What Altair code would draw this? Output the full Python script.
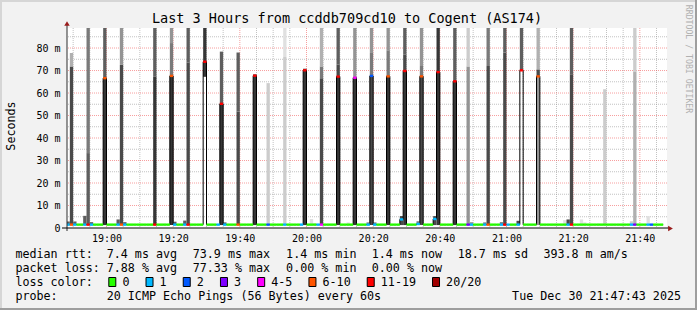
import altair as alt
import pandas as pd

# ------------------------------------------------------------------ data
START_H, START_M = 18, 48          # minute offset 0 == 18:48
N_MINUTES = 179                    # 18:48 .. 21:46 (one step per minute)
BASE_MEDIAN = 1.5                  # ms, level of the flat median line
SMOKE_FLOOR = 1.3                  # ms, fastest ping

LOSS_LABELS = ["0", "1", "2", "3", "4-5", "6-10", "11-19", "20/20"]
LOSS_COLORS = ["#26ff00", "#00b8ff", "#0059ff", "#7e00ff",
               "#ff00ff", "#ff5500", "#ff0000", "#a10000"]

# minute offset -> loss class (all other minutes: "0")
loss_by_minute = {
    0: "1", 1: "6-10", 2: "1", 5: "1", 6: "11-19", 7: "1", 11: "6-10",
    15: "1", 16: "6-10", 17: "1", 26: "11-19", 31: "6-10", 32: "1",
    35: "1", 36: "11-19", 41: "11-19", 45: "1", 46: "11-19", 47: "1",
    51: "6-10", 56: "11-19", 60: "2", 65: "1", 70: "1", 71: "11-19",
    75: "1", 76: "4-5", 81: "11-19", 86: "4-5", 90: "1", 91: "2", 92: "1",
    96: "6-10", 100: "1", 101: "11-19", 105: "1", 106: "6-10", 110: "1",
    111: "11-19", 116: "11-19", 120: "3", 121: "1", 125: "1", 126: "6-10",
    130: "1", 131: "11-19", 132: "1", 135: "1", 136: "11-19", 141: "6-10",
    150: "1", 151: "11-19", 169: "1", 170: "3", 174: "1", 175: "2",
}

# minute offset -> median rtt in ms where it is off the flat line
median_by_minute = {
    11: 66.6, 31: 67.6, 41: 73.9, 46: 55.2, 56: 67.7, 71: 70.1, 81: 67.3,
    86: 66.8, 91: 67.6, 96: 67.4, 100: 3.8, 101: 69.8, 105: 1.8, 106: 67.4,
    110: 4.0, 111: 69.3, 116: 65.2, 136: 70.1, 141: 67.4,
}

# tall smoke: (minute, low ms, high ms, ping density 1 = sparse .. 8 = dense)
tall_smoke = [
    (1, 1.3, 71.8, 7), (1, 71.8, 77.8, 3),
    (6, 1.3, 33.3, 6), (6, 33.3, 90, 5),
    (11, 1.3, 66.6, 8), (11, 66.6, 90, 6),
    (16, 1.3, 72.5, 7), (16, 72.5, 90, 4),
    (26, 1.3, 67.2, 8), (26, 67.2, 90, 6),
    (31, 1.3, 67.6, 8), (31, 67.6, 82.2, 5), (31, 82.2, 90, 4),
    (36, 1.3, 73.6, 7), (36, 73.6, 90, 6),
    (41, 67.2, 90, 8),
    (46, 1.3, 55.2, 8), (46, 55.2, 78.4, 6),
    (51, 1.3, 51.8, 7), (51, 51.8, 78.0, 6),
    (56, 1.3, 68.3, 8),
    (60, 1.3, 64.4, 2),
    (65, 1.3, 76.0, 2), (65, 76.0, 90, 1),
    (71, 1.3, 70.8, 8),
    (76, 1.3, 66.6, 7), (76, 66.6, 71.8, 5), (76, 71.8, 90, 3),
    (81, 1.3, 67.3, 8), (81, 67.3, 72.6, 7), (81, 72.6, 90, 6),
    (86, 1.3, 66.8, 8), (86, 66.8, 90, 4),
    (91, 1.3, 67.6, 7), (91, 67.6, 77.8, 5), (91, 77.8, 90, 4),
    (96, 1.3, 67.4, 8), (96, 67.4, 79.0, 5), (96, 79.0, 90, 4),
    (101, 1.3, 69.8, 8), (101, 69.8, 77.0, 7), (101, 77.0, 90, 6),
    (106, 1.3, 67.4, 7), (106, 67.4, 72.0, 5), (106, 72.0, 90, 4),
    (111, 1.3, 90, 8),
    (116, 1.3, 65.2, 8), (116, 65.2, 90, 6),
    (120, 1.3, 71.8, 4), (120, 71.8, 90, 2),
    (126, 1.3, 72.0, 7), (126, 72.0, 90, 5),
    (131, 1.3, 78.0, 7), (131, 78.0, 90, 6),
    (136, 70.1, 90, 6),
    (141, 1.3, 67.4, 4), (141, 67.4, 70.5, 7), (141, 70.5, 90, 3),
    (151, 1.3, 68.3, 7), (151, 68.3, 90, 6),
    (161, 1.3, 61.7, 2),
    (170, 1.3, 69.6, 3), (170, 69.6, 90, 2),
]

# low smoke near the floor: (minute, high ms, density)
small_smoke = [
    (0, 2.9, 6), (2, 2.9, 6), (5, 5.4, 6), (7, 2.6, 6), (15, 3.8, 6),
    (17, 2.6, 6), (29, 1.9, 1), (32, 2.8, 6), (35, 3.3, 6), (47, 2.5, 6),
    (73, 4.0, 1), (74, 2.2, 1), (84, 2.5, 1), (90, 2.5, 5), (92, 2.5, 5),
    (100, 5.3, 7), (105, 3.0, 5), (110, 5.3, 7), (121, 2.6, 4),
    (125, 2.5, 5), (130, 2.6, 5), (135, 3.2, 7), (149, 3.5, 1),
    (150, 3.8, 7), (154, 3.8, 1), (155, 2.5, 1), (159, 1.9, 1),
    (169, 3.0, 2), (174, 5.3, 1),
]

DENSITY_LEVELS = [1, 2, 3, 4, 5, 6, 7, 8]
DENSITY_GREYS = ["#e0e0e0", "#cccccc", "#b0b0b0", "#949494",
                 "#7a7a7a", "#5e5e5e", "#4a4a4a", "#363636"]

X_LABEL_TIMES = ["19:00", "19:20", "19:40", "20:00", "20:20",
                 "20:40", "21:00", "21:20", "21:40"]
Y_LABEL_VALUES = [0, 10, 20, 30, 40, 50, 60, 70, 80]

TITLE = "Last 3 Hours from ccddb709cd10 to Cogent (AS174)"
Y_TITLE = "Seconds"
LEGEND_ROW1 = [(16, "median rtt:"), (107.3, "7.4 ms avg"), (193.3, "73.9 ms max"),
               (286.7, "1.4 ms min"), (372.3, "1.4 ms now"), (458.3, "18.7 ms sd"),
               (544.0, "393.8 m am/s")]
LEGEND_ROW2 = [(16, "packet loss:"), (107.3, "7.88 % avg"), (193.3, "77.33 % max"),
               (286.7, "0.00 % min"), (372.3, "0.00 % now")]
LEGEND_ROW3_LABEL = "loss color:"
LEGEND_ROW4 = [(16, "probe:"), (107.3, "20 ICMP Echo Pings (56 Bytes) every 60s")]
STAMP = "Tue Dec 30 21:47:43 2025"
WATERMARK = "RRDTOOL / TOBI OETIKER"

# ------------------------------------------------------------------ tables
def to_offset(hhmm):
    h, m = map(int, hhmm.split(":"))
    return h * 60 + m - (START_H * 60 + START_M)

med_rows = []
for k in range(N_MINUTES):
    med_rows.append({"t": k, "t2": k + 1,
                     "v": median_by_minute.get(k, BASE_MEDIAN),
                     "loss": loss_by_minute.get(k, "0")})
med_df = pd.DataFrame(med_rows)
step_df = pd.concat([med_df[["t", "v"]],
                     pd.DataFrame([{"t": N_MINUTES, "v": med_rows[-1]["v"]}])])

smoke_rows = [{"t": k, "t2": k + 1, "lo": lo, "hi": hi, "lvl": d}
              for (k, lo, hi, d) in tall_smoke]
smoke_rows += [{"t": k, "t2": k + 1, "lo": SMOKE_FLOOR, "hi": hi, "lvl": d}
               for (k, hi, d) in small_smoke]
smoke_df = pd.DataFrame(smoke_rows)

x_major = [to_offset(s) for s in X_LABEL_TIMES]
x_minor = [m for m in range(2, 180, 5) if m not in x_major]
y_major = list(range(10, 90, 10))
y_minor = list(range(5, 90, 10))

# ------------------------------------------------------------------ layout
OX, OY = 67, 28              # plot origin inside the 697x310 picture
PW, PH = 600, 200
MONO = "DejaVu Sans Mono"
LF = 11.7

xs = alt.Scale(domain=[0.15, 180.15], nice=False, zero=False)
ys = alt.Scale(domain=[0, 88.9], nice=False, zero=False)

xaxis = alt.Axis(values=x_major, title=None, grid=False, ticks=False, domain=False,
                 labelExpr="timeFormat(datetime(2025, 11, 30, 18, 48 + datum.value), '%H:%M')",
                 labelFont=MONO, labelFontSize=10, labelColor="#000000",
                 labelPadding=5, labelFlush=False, labelOverlap=False)
yaxis = alt.Axis(values=Y_LABEL_VALUES, title=None, grid=False, ticks=False, domain=False,
                 labelExpr="datum.value == 0 ? '0' : datum.value + ' m'",
                 labelFont=MONO, labelFontSize=10, labelColor="#000000",
                 labelPadding=7, labelFlush=False, labelOverlap=False)

X = lambda f: alt.X(f, type="quantitative", scale=xs, axis=xaxis)
Y = lambda f: alt.Y(f, type="quantitative", scale=ys, axis=yaxis)

ONE = pd.DataFrame({"a": [0]})

def text(txt, x, y, size=LF, align="left", baseline="middle", angle=0, color="#000000"):
    return alt.Chart(ONE).mark_text(text=txt, font=MONO, fontSize=size, align=align,
                                    baseline=baseline, angle=angle, color=color).encode(
        x=alt.value(x - OX), y=alt.value(y - OY))

def hline(x1, x2, y, color, w=1):
    return alt.Chart(ONE).mark_rule(color=color, strokeWidth=w).encode(
        x=alt.value(x1 - OX), x2=alt.value(x2 - OX), y=alt.value(y - OY))

def vline(x, y1, y2, color, w=1):
    return alt.Chart(ONE).mark_rule(color=color, strokeWidth=w).encode(
        x=alt.value(x - OX), y=alt.value(y1 - OY), y2=alt.value(y2 - OY))

layers = []

# grid
layers.append(alt.Chart(pd.DataFrame({"t": x_minor})).mark_rule(
    color="#8f8f8f", opacity=0.55, strokeDash=[1, 1]).encode(x=X("t")))
layers.append(alt.Chart(pd.DataFrame({"v": y_minor})).mark_rule(
    color="#8f8f8f", opacity=0.55, strokeDash=[1, 1]).encode(y=Y("v")))
layers.append(alt.Chart(pd.DataFrame({"t": x_major})).mark_rule(
    color="#f04040", opacity=0.5, strokeDash=[1, 1]).encode(x=X("t")))
layers.append(alt.Chart(pd.DataFrame({"v": y_major})).mark_rule(
    color="#f04040", opacity=0.5, strokeDash=[1, 1]).encode(y=Y("v")))

# smoke
layers.append(alt.Chart(smoke_df).mark_rect(clip=True).encode(
    x=X("t"), x2="t2", y=Y("lo"), y2="hi",
    fill=alt.Fill("lvl:O", scale=alt.Scale(domain=DENSITY_LEVELS, range=DENSITY_GREYS),
                  legend=None)))

# median: black step outline and loss-coloured segments
layers.append(alt.Chart(step_df).mark_line(
    interpolate="step-after", color="#000000", strokeWidth=1, clip=True).encode(
    x=X("t"), y=Y("v")))
layers.append(alt.Chart(med_df).mark_rule(strokeWidth=2.4, clip=True).encode(
    x=X("t"), x2="t2", y=Y("v"),
    stroke=alt.Stroke("loss:N", scale=alt.Scale(domain=LOSS_LABELS, range=LOSS_COLORS),
                      legend=None)))

# axes lines and arrows
layers.append(vline(67, 25, 231, "#2c2c2c"))
layers.append(hline(62, 669, 228, "#000000"))
layers.append(alt.Chart(ONE).mark_point(shape="triangle-up", filled=True, size=30,
                                        color="#9a1c1c", opacity=1).encode(
    x=alt.value(0), y=alt.value(23.5 - OY)))
layers.append(alt.Chart(ONE).mark_point(shape="triangle-right", filled=True, size=30,
                                        color="#9a1c1c", opacity=1).encode(
    x=alt.value(670.5 - OX), y=alt.value(0.5 + PH)))

# frame
layers.append(hline(0, 697, 1, "#d6d6d6", 2))
layers.append(vline(1, 0, 310, "#d6d6d6", 2))
layers.append(hline(0, 697, 309, "#9e9e9e", 2))
layers.append(vline(696, 0, 310, "#9e9e9e", 2))

# titles
layers.append(text(TITLE, 347, 23.3, size=13.5, align="center", baseline="alphabetic"))
layers.append(text(Y_TITLE, 11, 126, angle=270, align="center"))
layers.append(text(WATERMARK, 688, 59, size=8.2, angle=90, align="center", color="#b0b0b0"))

# legend
ROW_Y = [254, 268, 282, 296]
for x, s in LEGEND_ROW1:
    layers.append(text(s, x - 0.6, ROW_Y[0]))
for x, s in LEGEND_ROW2:
    layers.append(text(s, x - 0.6, ROW_Y[1]))
layers.append(text(LEGEND_ROW3_LABEL, 15.4, ROW_Y[2]))
bx = 108.3
for lab, col in zip(LOSS_LABELS, LOSS_COLORS):
    layers.append(alt.Chart(ONE).mark_rect(fill=col, stroke="#000000", strokeWidth=1).encode(
        x=alt.value(bx + 0.5 - OX), x2=alt.value(bx + 7.5 - OX),
        y=alt.value(277.5 - OY), y2=alt.value(286.5 - OY)))
    lx = bx + 14.7
    layers.append(text(lab, lx - 0.6, ROW_Y[2]))
    bx = lx + len(lab) * 7.02 + 15.5
for x, s in LEGEND_ROW4:
    layers.append(text(s, x - 0.6, ROW_Y[3]))
layers.append(text(STAMP, 681, ROW_Y[3], align="right"))

chart = alt.layer(*layers).resolve_scale(
    fill="independent", stroke="independent"
).properties(
    width=PW, height=PH,
    padding={"left": OX, "top": OY, "right": 697 - OX - PW, "bottom": 310 - OY - PH},
    autosize=alt.AutoSizeParams(type="none"),
    background="#f2f2f2",
).configure_view(stroke=None, fill="#ffffff")

chart.save("out.html", embed_options={"renderer": "svg", "actions": False})
